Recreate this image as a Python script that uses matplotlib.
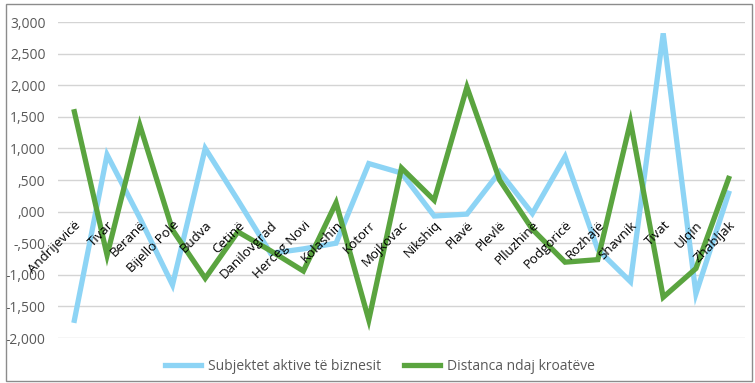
import matplotlib
matplotlib.use("Agg")
import matplotlib.pyplot as plt
from matplotlib.patches import Rectangle
from matplotlib.ticker import FuncFormatter

categories = ["Andrijevicë", "Tivar", "Beranë", "Bijello Pole", "Budva", "Cetinë",
              "Danilovgrad", "Herceg Novi", "Kolashin", "Kotorr", "Mojkovac", "Nikshiq",
              "Plavë", "Plevlë", "Plluzhinë", "Podgoricë", "Rozhajë", "Shavnik",
              "Tivat", "Ulqin", "Zhabljak"]
subjektet = [-1720, 900, -100, -1160, 1000, 180, -660, -590, -500, 760, 610, -70,
             -40, 630, -30, 870, -600, -1110, 2820, -1300, 290]
distanca = [1580, -690, 1370, -290, -1055, -320, -620, -940, 140, -1715, 690, 180,
            1970, 500, -280, -800, -760, 1420, -1355, -900, 525]
yticks = [-2000, -1500, -1000, -500, 0, 500, 1000, 1500, 2000, 2500, 3000]

plt.rcParams['font.family'] = ['Open Sans', 'DejaVu Sans']

W, H = 755, 383
fig = plt.figure(figsize=(W / 100, H / 100), dpi=100)
fig.patches.append(Rectangle((6 / W, 2 / H), 746 / W, 377 / H, transform=fig.transFigure,
                             fill=False, edgecolor='#8c8c8c', linewidth=1.0))

ax = fig.add_axes([58 / W, (H - 338) / H, (745 - 58) / W, (338 - 22) / H])
x = list(range(len(categories)))
blue = '#8DD4F5'
green = '#5AA43F'
for yv in yticks:
    ax.axhline(yv, color='#d4d4d4', linewidth=1.0, zorder=0.5)
ax.plot(x, subjektet, color=blue, linewidth=3.8, label='Subjektet aktive të biznesit',
        solid_joinstyle='miter', zorder=2)
ax.plot(x, distanca, color=green, linewidth=3.8, label='Distanca ndaj kroatëve',
        solid_joinstyle='miter', zorder=2.1)

ax.set_xlim(-0.5, len(categories) - 0.5)
ax.set_ylim(-2000, 3000)
ax.set_yticks(yticks)


def fmt(v, pos):
    v = int(round(v))
    s = "{:,}".format(abs(v))
    if abs(v) < 1000:
        s = "," + "{:03d}".format(abs(v))
    return ("-" if v < 0 else "") + s


ax.yaxis.set_major_formatter(FuncFormatter(fmt))
for s in ax.spines.values():
    s.set_visible(False)
ax.spines['bottom'].set_position(('data', 0))
ax.tick_params(axis='y', length=0, labelsize=10, labelcolor='#595959', pad=9)
ax.tick_params(axis='x', length=0, labelsize=9.5, labelcolor='black', pad=5)
ax.set_xticks(x)
ax.set_xticklabels(categories, rotation=45, ha='right', rotation_mode='anchor')
for lbl in ax.get_xticklabels():
    lbl.set_va('top')
ax.xaxis.set_zorder(5)

leg = fig.legend(loc='center', bbox_to_anchor=(380 / W, (H - 366) / H), ncol=2,
                 frameon=False, fontsize=10, handlelength=2.6, columnspacing=1.6,
                 handletextpad=0.5)
for t in leg.get_texts():
    t.set_color('#595959')

fig.savefig('out.png', dpi=100)
